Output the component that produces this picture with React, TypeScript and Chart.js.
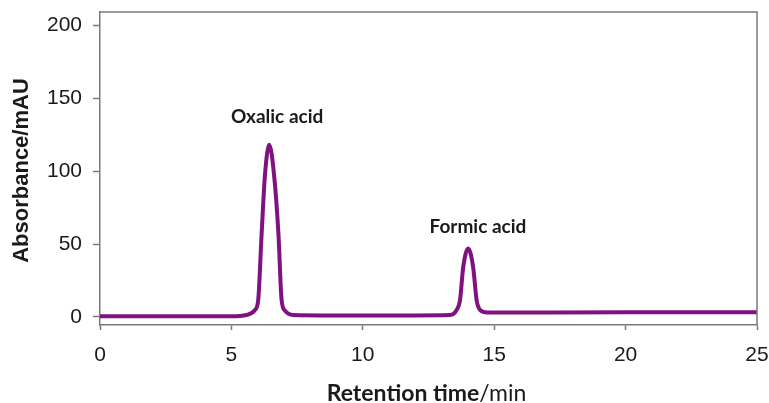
import React, { useEffect, useRef } from "react";
import { Chart, registerables } from "chart.js";

Chart.register(...registerables);

// Retention time (min) and absorbance (mAU)
const timeMin = [0, 5.0, 5.58, 5.9, 6.02, 6.15, 6.28, 6.44, 6.62, 6.79, 6.91, 7.04, 7.35, 10, 13.32, 13.57, 13.7, 13.82, 14.01, 14.2, 14.33, 14.46, 14.74, 20, 25];
const absorbance = [0.5, 0.5, 1.4, 4.8, 11.6, 57, 98, 118, 98, 57, 11.6, 4.3, 1.4, 1.0, 1.4, 4.8, 11.6, 34, 47, 34, 11.6, 4.8, 3.0, 3.2, 3.2];

const xTicks = [0, 5, 10, 15, 20, 25];
const yTicks = [0, 50, 100, 150, 200];

const peakNames = ["Oxalic acid", "Formic acid"];
const peakLabelTime = [6.74, 14.38];
const peakLabelAbs = [137, 61.6];

const xTitleBold = "Retention time";
const xTitleUnit = "/min";
const yTitle = "Absorbance/mAU";

const LINE = "#7f127f";
const AXIS = "#7a7a7a";
const TEXT = "#1a1a1a";

export default function App() {
  const ref = useRef<HTMLCanvasElement>(null);

  useEffect(() => {
    if (!ref.current) return;

    const textPlugin = {
      id: "chromTexts",
      afterDraw(chart: any) {
        const ctx = chart.ctx;
        const ca = chart.chartArea;
        const xs = chart.scales.x;
        const ys = chart.scales.y;
        ctx.save();
        // frame top & right
        ctx.strokeStyle = AXIS;
        ctx.lineWidth = 1.5;
        ctx.beginPath();
        ctx.moveTo(ca.left, ca.top);
        ctx.lineTo(ca.right, ca.top);
        ctx.lineTo(ca.right, ca.bottom);
        ctx.stroke();

        // peak labels
        ctx.fillStyle = TEXT;
        ctx.font = "bold 19px Lato";
        ctx.textAlign = "center";
        ctx.textBaseline = "middle";
        peakNames.forEach((name, i) => {
          ctx.fillText(name, xs.getPixelForValue(peakLabelTime[i]), ys.getPixelForValue(peakLabelAbs[i]));
        });

        // x title
        const boldFont = "bold 23px Lato";
        const regFont = "23px Lato";
        ctx.font = boldFont;
        const wb = ctx.measureText(xTitleBold).width;
        ctx.font = regFont;
        const wr = ctx.measureText(xTitleUnit).width;
        const cx = (ca.left + ca.right) / 2 - 2;
        const startX = cx - (wb + wr) / 2;
        const baseY = chart.height - 2;
        ctx.textAlign = "left";
        ctx.textBaseline = "alphabetic";
        ctx.font = boldFont;
        ctx.fillText(xTitleBold, startX, baseY);
        ctx.font = regFont;
        ctx.fillText(xTitleUnit, startX + wb, baseY);

        // y title
        ctx.translate(22, (ca.top + ca.bottom) / 2 + 2);
        ctx.rotate(-Math.PI / 2);
        ctx.font = "bold 22px 'Liberation Sans'";
        ctx.textAlign = "center";
        ctx.textBaseline = "middle";
        ctx.fillText(yTitle, 0, 0);
        ctx.restore();
      },
    };

    const chart = new Chart(ref.current, {
      type: "line",
      data: {
        datasets: [
          {
            data: timeMin.map((t, i) => ({ x: t, y: absorbance[i] })),
            borderColor: LINE,
            borderWidth: 4,
            pointRadius: 0,
            cubicInterpolationMode: "monotone",
            borderJoinStyle: "round",
            borderCapStyle: "round",
            fill: false,
          },
        ],
      },
      options: {
        animation: false,
        responsive: false,
        maintainAspectRatio: false,
        layout: { padding: { top: 12, right: 12, left: 0, bottom: 0 } },
        plugins: { legend: { display: false }, tooltip: { enabled: false }, title: { display: false } },
        scales: {
          x: {
            type: "linear",
            min: 0,
            max: 25,
            afterBuildTicks: (s: any) => {
              s.ticks = xTicks.map((v) => ({ value: v }));
            },
            afterFit: (s: any) => {
              s.height = 78;
              s.paddingLeft = 0;
              s.paddingRight = 0;
            },
            ticks: {
              color: TEXT,
              font: { family: "'Liberation Sans'", size: 21 },
              padding: 13,
              maxRotation: 0,
              autoSkip: false,
            },
            grid: {
              display: true,
              drawOnChartArea: false,
              drawTicks: true,
              tickLength: 5,
              tickColor: AXIS,
              tickWidth: 1.5,
              color: AXIS,
            },
            border: { display: true, color: AXIS, width: 1.5 },
          },
          y: {
            type: "linear",
            min: -5.5,
            max: 209,
            afterBuildTicks: (s: any) => {
              s.ticks = yTicks.map((v) => ({ value: v }));
            },
            afterFit: (s: any) => {
              s.width = 100;
              s.paddingTop = 0;
              s.paddingBottom = 0;
            },
            ticks: {
              color: TEXT,
              font: { family: "'Liberation Sans'", size: 21 },
              padding: 11,
              autoSkip: false,
            },
            grid: {
              display: true,
              drawOnChartArea: false,
              drawTicks: true,
              tickLength: 7,
              tickColor: AXIS,
              tickWidth: 1.5,
              color: AXIS,
            },
            border: { display: true, color: AXIS, width: 1.5 },
          },
        },
      },
      plugins: [textPlugin],
    } as any);

    return () => chart.destroy();
  }, []);

  return (
    <div style={{ position: "fixed", left: 0, top: 0, width: 769, height: 403, background: "#fff" }}>
      <canvas ref={ref} width={769} height={403} style={{ width: 769, height: 403, display: "block" }} />
    </div>
  );
}
